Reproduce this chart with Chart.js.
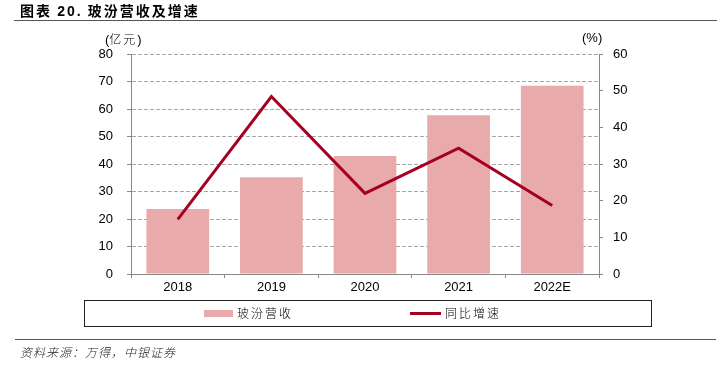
<!DOCTYPE html>
<html>
<head>
<meta charset="utf-8">
<script src="https://cdn.jsdelivr.net/npm/chart.js@4.4.0/dist/chart.umd.min.js"></script>
<style>
  body { margin: 0; background: #fff; }
  #wrap { position: relative; width: 717px; height: 375px; overflow: hidden; font-family: "Liberation Sans", Arial, sans-serif; }
  #c { position: absolute; left: 0; top: 0; }
  .txt { position: absolute; white-space: nowrap; color: #000; }
  .cjk { font-family: "Noto Sans CJK SC", sans-serif; }
  .lat { font-family: "Liberation Sans", Arial, sans-serif; }
  #title { left: 20px; top: 0px; font-size: 14px; font-weight: bold; letter-spacing: 2px; }
  .rule { position: absolute; height: 1px; background: #555; }
  #legend { position: absolute; left: 84px; top: 300px; width: 566px; height: 25px; border: 1.5px solid #222; }
  .sw { position: absolute; }
</style>
</head>
<body>
<div id="wrap">
  <canvas id="c" width="717" height="375"></canvas>
  <div id="title" class="txt cjk">图表 <span class="lat">20.</span> 玻汾营收及增速</div>
  <div class="rule" style="left:14px; top:20px; width:703px;"></div>
  <div class="txt" style="left:105px; top:30px; font-size:13px;">(<span class="cjk" style="font-size:12px; letter-spacing:2px; font-weight:300;">亿元</span>)</div>
  <div class="txt" style="left:582px; top:30px; font-size:13px;">(%)</div>
  <div id="legend"></div>
  <div class="sw" style="left:204px; top:310px; width:29px; height:7px; background:#E8AAAA;"></div>
  <div class="txt cjk" style="left:237px; top:304px; font-size:12px; letter-spacing:2px; font-weight:300;">玻汾营收</div>
  <div class="sw" style="left:410px; top:312px; width:31px; height:3px; background:#A50021;"></div>
  <div class="txt cjk" style="left:445px; top:304px; font-size:12px; letter-spacing:2px; font-weight:300;">同比增速</div>
  <div class="rule" style="left:15px; top:339px; width:701px;"></div>
  <div class="txt cjk" style="left:20px; top:343px; font-size:12px; font-style:italic; letter-spacing:1px; color:#222; font-weight:300;">资料来源：万得，中银证券</div>
</div>
<script>
const categories = ['2018', '2019', '2020', '2021', '2022E'];
const revenue = [23.6, 35.2, 42.9, 57.7, 68.5];   // 玻汾营收, 亿元
const growth = [14.9, 48.4, 22.0, 34.3, 18.7];    // 同比增速, %

const axisColor = '#888';
const tickFont = { family: 'Liberation Sans, Arial, sans-serif', size: 13 };

const ctx = document.getElementById('c').getContext('2d');
new Chart(ctx, {
  data: {
    labels: categories,
    datasets: [
      {
        type: 'line',
        label: '同比增速',
        data: growth,
        yAxisID: 'y2',
        borderColor: '#A50021',
        borderWidth: 3,
        pointRadius: 0,
        tension: 0,
        order: 0,
      },
      {
        type: 'bar',
        label: '玻汾营收',
        data: revenue,
        yAxisID: 'y',
        backgroundColor: '#E8AAAA',
        categoryPercentage: 1,
        barPercentage: 0.67,
        order: 1,
      },
    ],
  },
  options: {
    responsive: false,
    animation: false,
    layout: { padding: { left: 0, right: 0, top: 54, bottom: 0 } },
    plugins: {
      legend: { display: false },
      tooltip: { enabled: false },
    },
    scales: {
      x: {
        offset: true,
        grid: {
          offset: true,
          drawOnChartArea: false,
          tickLength: 4,
          color: axisColor,
        },
        border: { color: axisColor },
        ticks: { color: '#000', font: tickFont, padding: 2 },
        afterFit: (scale) => { scale.height = 101; },
      },
      y: {
        position: 'left',
        min: 0,
        max: 80,
        ticks: { stepSize: 10, color: '#000', font: tickFont, padding: 14 },
        grid: {
          color: '#a6a6a6',
          tickColor: axisColor,
          tickBorderDash: [],
          tickLength: 4,
        },
        // in v4 border.dash is what dashes the grid lines
        border: { color: axisColor, dash: [4, 2] },
        afterFit: (scale) => { scale.width = 131; },
      },
      y2: {
        position: 'right',
        min: 0,
        max: 60,
        ticks: { stepSize: 10, color: '#000', font: tickFont, padding: 10 },
        grid: {
          drawOnChartArea: false,
          color: axisColor,
          tickLength: 4,
        },
        border: { color: axisColor },
        afterFit: (scale) => { scale.width = 118; },
      },
    },
  },
});
</script>
</body>
</html>
